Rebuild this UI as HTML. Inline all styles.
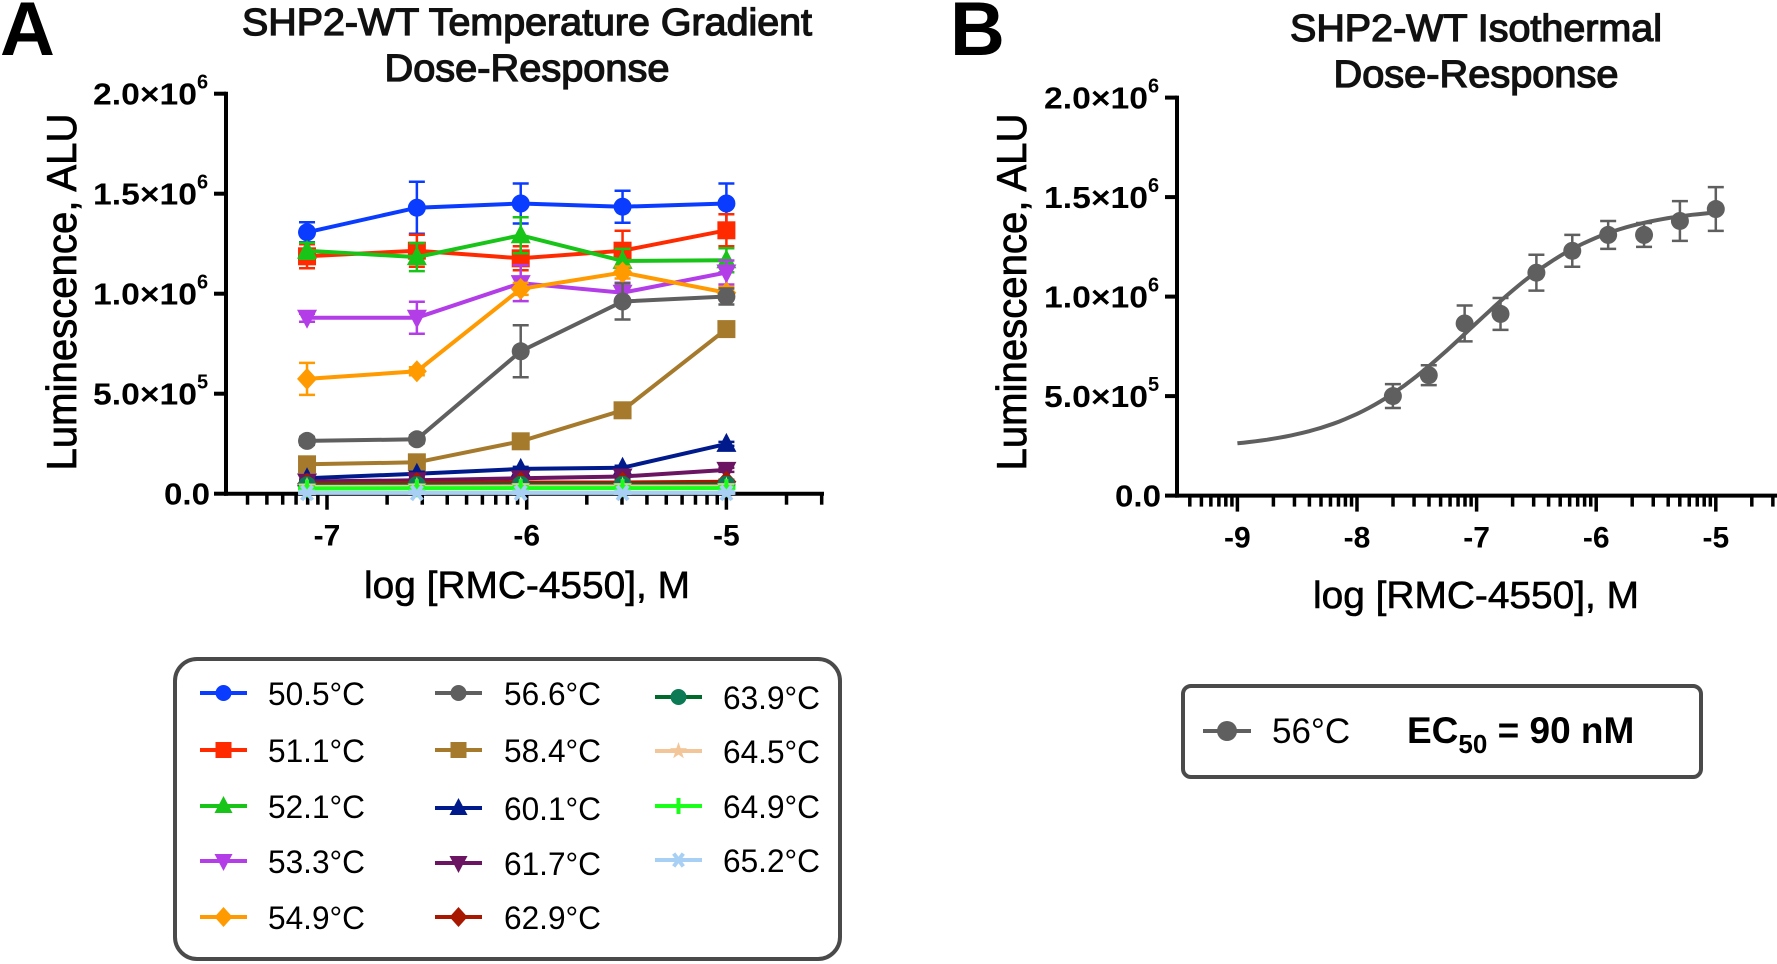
<!DOCTYPE html>
<html><head><meta charset="utf-8"><style>
html,body{margin:0;padding:0;background:#fff;}
svg{display:block;font-family:"Liberation Sans",Arial,sans-serif;}
</style></head><body>
<svg id="fig" width="1777" height="964" viewBox="0 0 1777 964" xmlns="http://www.w3.org/2000/svg">
<text x="0" y="55" font-size="76" font-weight="bold">A</text>
<text x="950" y="55" font-size="76" font-weight="bold">B</text>
<g font-size="38" text-anchor="middle" fill="#111" stroke="#111" stroke-width="1.3">
<text x="527" y="35" textLength="570" lengthAdjust="spacingAndGlyphs">SHP2-WT Temperature Gradient</text>
<text x="527" y="81" textLength="285" lengthAdjust="spacingAndGlyphs">Dose-Response</text>
<text x="1476" y="41" textLength="372" lengthAdjust="spacingAndGlyphs">SHP2-WT Isothermal</text>
<text x="1476" y="87" textLength="285" lengthAdjust="spacingAndGlyphs">Dose-Response</text>
</g>
<g id="chartA"></g>
<g id="chartB"></g>
<g id="legendA"></g>
<g id="legendB"></g>
</svg>
<script>
const xA = [-7.1, -6.55, -6.03, -5.52, -5.0];
const tempLabels = ["50.5°C","51.1°C","52.1°C","53.3°C","54.9°C","56.6°C","58.4°C","60.1°C","61.7°C","62.9°C","63.9°C","64.5°C","64.9°C","65.2°C"];
const s505 = [1.307,1.430,1.451,1.435,1.451];
const s511 = [1.187,1.215,1.177,1.215,1.317];
const s521 = [1.215,1.183,1.292,1.164,1.167];
const s533 = [0.880,0.880,1.053,1.005,1.106];
const s549 = [0.574,0.612,1.024,1.106,1.005];
const s566 = [0.264,0.272,0.712,0.961,0.986];
const s584 = [0.147,0.157,0.262,0.417,0.823];
const s601 = [0.077,0.100,0.124,0.130,0.249];
const s617 = [0.061,0.067,0.077,0.086,0.119];
const s629 = [0.050,0.054,0.056,0.056,0.060];
const s639 = [0.042,0.043,0.044,0.044,0.045];
const s645 = [0.034,0.035,0.036,0.036,0.036];
const s649 = [0.026,0.027,0.028,0.028,0.028];
const s652 = [0.004,0.004,0.004,0.004,0.004];
const e505 = [0.05,0.13,0.10,0.08,0.10];
const e511 = [0.06,0.08,0.06,0.10,0.08];
const e521 = [0.04,0.07,0.09,0.06,0.06];
const e533 = [0.02,0.08,0.09,0.05,0.06];
const e549 = [0.08,0.02,0.03,0.03,0.03];
const e566 = [0.02,0.02,0.13,0.09,0.04];
const eSmall = [0.01,0.01,0.01,0.01,0.01];
const yTickVals = [0,0.5,1.0,1.5,2.0];
const yTickMant = ["0.0","5.0×10","1.0×10","1.5×10","2.0×10"];
const yTickExp = ["","5","6","6","6"];
const xTicksA = [-7,-6,-5];
const xTicksB = [-9,-8,-7,-6,-5];
const xB = [-7.7,-7.4,-7.1,-6.8,-6.5,-6.2,-5.9,-5.6,-5.3,-5.0];
const yB = [0.50,0.605,0.865,0.913,1.12,1.23,1.31,1.31,1.38,1.44];
const eB = [0.06,0.05,0.09,0.08,0.09,0.08,0.07,0.06,0.10,0.11];
const fitBottom = 0.23, fitTop = 1.45, fitLogEC50 = -7.05, fitHill = 0.8;

const NS="http://www.w3.org/2000/svg";
function mk(parent, tag, attrs){const e=document.createElementNS(NS,tag);for(const k in attrs)e.setAttribute(k,attrs[k]);parent.appendChild(e);return e;}

const seriesA=[
 {v:s505,e:e505,c:"#0a3cff",m:"circle"},
 {v:s511,e:e511,c:"#ff2a00",m:"square"},
 {v:s521,e:e521,c:"#19c419",m:"tri"},
 {v:s533,e:e533,c:"#b33ee8",m:"tridown"},
 {v:s549,e:e549,c:"#ff9a00",m:"diamond"},
 {v:s566,e:e566,c:"#5f5f5f",m:"circle"},
 {v:s584,e:eSmall,c:"#a67a2c",m:"square"},
 {v:s601,e:eSmall,c:"#001a8c",m:"tri"},
 {v:s617,e:eSmall,c:"#6b1462",m:"tridown"},
 {v:s629,e:eSmall,c:"#a81800",m:"diamond"},
 {v:s639,e:eSmall,c:"#006a2a",m:"circle",mc:"#0b7a55"},
 {v:s645,e:eSmall,c:"#f2c698",m:"star"},
 {v:s649,e:eSmall,c:"#1aff1a",m:"plus"},
 {v:s652,e:eSmall,c:"#a8d0f5",m:"asterisk"}
];

function marker(g,type,x,y,c,r){
 r=r||9;
 if(type==="circle") return mk(g,"circle",{cx:x,cy:y,r:r,fill:c});
 if(type==="square") return mk(g,"rect",{x:x-r,y:y-r,width:2*r,height:2*r,fill:c});
 if(type==="tri") return mk(g,"polygon",{points:`${x},${y-r-2} ${x+r+1},${y+r-1} ${x-r-1},${y+r-1}`,fill:c});
 if(type==="tridown") return mk(g,"polygon",{points:`${x},${y+r+2} ${x+r+1},${y-r+1} ${x-r-1},${y-r+1}`,fill:c});
 if(type==="diamond") return mk(g,"polygon",{points:`${x},${y-r-2} ${x+r+1},${y} ${x},${y+r+2} ${x-r-1},${y}`,fill:c});
 if(type==="star"){let p=[];for(let i=0;i<10;i++){const a=-Math.PI/2+i*Math.PI/5;const rr=i%2?r*0.45:r+1;p.push((x+rr*Math.cos(a)).toFixed(1)+","+(y+rr*Math.sin(a)).toFixed(1));}return mk(g,"polygon",{points:p.join(" "),fill:c});}
 if(type==="plus") return mk(g,"path",{d:`M${x-r} ${y}H${x+r}M${x} ${y-r}V${y+r}`,stroke:c,"stroke-width":4,fill:"none"});
 if(type==="asterisk") return mk(g,"path",{d:`M${x-r} ${y}H${x+r}M${x-r*0.6} ${y-r*0.8}L${x+r*0.6} ${y+r*0.8}M${x-r*0.6} ${y+r*0.8}L${x+r*0.6} ${y-r*0.8}`,stroke:c,"stroke-width":4,fill:"none"});
}

function axes(g, ax){
 let l=mk(g,"line",{x1:ax.x0,y1:ax.sy(2.0)-2,x2:ax.x0,y2:ax.sy(0)+2,stroke:"#000","stroke-width":4});
 
 
 yTickVals.forEach((v,i)=>{
  const y=ax.sy(v);
  mk(g,"line",{x1:ax.x0-12,y1:y,x2:ax.x0,y2:y,stroke:"#000","stroke-width":4});
  const attrs={x:ax.x0-16-(yTickExp[i]?13:0),y:y+11,"font-size":31,"font-weight":"bold","text-anchor":"end"};
  if(yTickExp[i]){attrs.textLength=104;attrs.lengthAdjust="spacingAndGlyphs";}
  else {attrs.textLength=46;attrs.lengthAdjust="spacingAndGlyphs";}
  const t=mk(g,"text",attrs);
  t.textContent=yTickMant[i];
  
  
  if(yTickExp[i]){const s=mk(g,"text",{x:ax.x0-29,y:y-5,"font-size":20,"font-weight":"bold"});s.textContent=yTickExp[i];
   
   }
 });
 const yb=ax.sy(0);
 let xl=mk(g,"line",{x1:ax.x0-2,y1:yb,x2:ax.x1,y2:yb,stroke:"#000","stroke-width":4});
 
 
 for(let d=ax.dmin;d<=ax.dmax;d++){
  for(let k=1;k<=9;k++){
   const lv=d+Math.log10(k);
   const x=ax.sx(lv);
   if(x<ax.x0+6||x>ax.x1+1)continue;
   mk(g,"line",{x1:x,y1:yb,x2:x,y2:yb+(k===1?16:11),stroke:"#000","stroke-width":3.5});
  }
 }
 ax.xt.forEach(v=>{
  const t=mk(g,"text",{x:ax.sx(v),y:yb+52,"font-size":30,"font-weight":"bold","text-anchor":"middle"});
  t.textContent=String(v);
  
  
 });
}

function errbar(g,x,y1,y2,c){
 mk(g,"path",{d:`M${x} ${y1}V${y2}M${x-8} ${y1}H${x+8}M${x-8} ${y2}H${x+8}`,stroke:c,"stroke-width":2.5,fill:"none"});
}

const gA=document.getElementById("chartA");
const axA={x0:226,x1:824,sx:v=>327+(v+7)*199.7,sy:v=>493.7-v*200,dmin:-8,dmax:-5,xt:xTicksA};
axes(gA,axA);
seriesA.forEach((s,si)=>{
 const g=mk(gA,"g",{});
 
 
 s.v.forEach((v,i)=>{const x=axA.sx(xA[i]);errbar(g,x,axA.sy(v+s.e[i]),axA.sy(Math.max(0,v-s.e[i])),s.c);});
 mk(g,"polyline",{points:s.v.map((v,i)=>axA.sx(xA[i]).toFixed(1)+","+axA.sy(v).toFixed(1)).join(" "),stroke:s.c,"stroke-width":4,fill:"none"});
 s.v.forEach((v,i)=>marker(g,s.m,axA.sx(xA[i]),axA.sy(v),s.mc||s.c));
});
let t=mk(gA,"text",{x:527,y:598,"font-size":38,"text-anchor":"middle",stroke:"#000","stroke-width":0.6,textLength:326,lengthAdjust:"spacingAndGlyphs"});t.textContent="log [RMC-4550], M";


t=mk(gA,"text",{transform:"translate(76,292) rotate(-90)","font-size":42,"text-anchor":"middle",stroke:"#000","stroke-width":0.8,textLength:357,lengthAdjust:"spacingAndGlyphs"});t.textContent="Luminescence, ALU";



const gB=document.getElementById("chartB");
const axB={x0:1177,x1:1777,sx:v=>1237.4+(v+9)*119.6,sy:v=>495.6-v*199,dmin:-10,dmax:-5,xt:xTicksB};
axes(gB,axB);
const fit=lx=>fitBottom+(fitTop-fitBottom)/(1+Math.pow(10,(fitLogEC50-lx)*fitHill));
let pts=[];for(let lx=-9;lx<=-5.0001+0.05;lx+=0.05){pts.push(axB.sx(lx).toFixed(1)+","+axB.sy(fit(lx)).toFixed(1));}
let fc=mk(gB,"polyline",{points:pts.join(" "),stroke:"#5f5f5f","stroke-width":4,fill:"none"});


yB.forEach((v,i)=>{
 const x=axB.sx(xB[i]);
 errbar(gB,x,axB.sy(v+eB[i]),axB.sy(v-eB[i]),"#5f5f5f");
 const m=marker(gB,"circle",x,axB.sy(v),"#5f5f5f",9);
 
 
});
t=mk(gB,"text",{x:1476,y:608,"font-size":38,"text-anchor":"middle",stroke:"#000","stroke-width":0.6,textLength:326,lengthAdjust:"spacingAndGlyphs"});t.textContent="log [RMC-4550], M";


t=mk(gB,"text",{transform:"translate(1026,292) rotate(-90)","font-size":42,"text-anchor":"middle",stroke:"#000","stroke-width":0.8,textLength:357,lengthAdjust:"spacingAndGlyphs"});t.textContent="Luminescence, ALU";



const lA=document.getElementById("legendA");
mk(lA,"rect",{x:175,y:659,width:665,height:300,rx:22,fill:"#fff",stroke:"#4a4a4a","stroke-width":4});
const colX=[[200,268],[435,504],[655,723]];
const rowY=[[693,750,806,861,917],[693,750,808,863,917],[697,751,806,860]];
seriesA.forEach((s,i)=>{
 const c=i<5?0:(i<10?1:2), r=i<5?i:(i<10?i-5:i-10);
 const g=mk(lA,"g",{});
 
 
 const x=colX[c][0],y=rowY[c][r];
 mk(g,"line",{x1:x,y1:y,x2:x+47,y2:y,stroke:s.c,"stroke-width":4});
 marker(g,s.m,x+23.5,y,s.mc||s.c,8);
 const tt=mk(g,"text",{x:colX[c][1],y:y+12,"font-size":32,textLength:97,lengthAdjust:"spacingAndGlyphs"});tt.textContent=tempLabels[i];
});

const lB=document.getElementById("legendB");
mk(lB,"rect",{x:1183,y:686,width:518,height:91,rx:8,fill:"#fff",stroke:"#4a4a4a","stroke-width":4});
mk(lB,"line",{x1:1203,y1:731,x2:1251,y2:731,stroke:"#5f5f5f","stroke-width":4});
mk(lB,"circle",{cx:1227,cy:731,r:10,fill:"#5f5f5f"});
t=mk(lB,"text",{x:1272,y:743,"font-size":35});t.textContent="56°C";


t=mk(lB,"text",{x:1407,y:743,"font-size":37,"font-weight":"bold"});
t.innerHTML='EC<tspan dy="10" font-size="26">50</tspan><tspan dy="-10"> = 90 nM</tspan>';


</script>
</body></html>
